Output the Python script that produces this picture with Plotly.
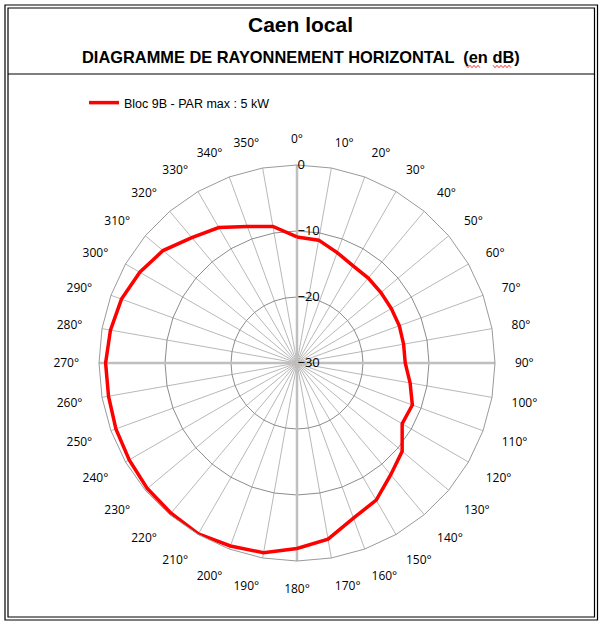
import plotly.graph_objects as go

W, H = 601, 627

# angles every 10 degrees, read clockwise from north
angles = [f"{a}°" for a in range(0, 360, 10)]

# relative field (dB)
bloc_9b = [-10.9, -11.1, -12.2, -13.0, -13.2, -13.4, -13.5, -13.5, -13.6, -13.6,
           -12.6, -11.4, -11.6, -9.2, -7.9, -6.0, -5.0, -2.9, -1.9, -0.8,
           -0.5, -0.1, -0.3, -0.4, -0.65, -0.8, -1.0, -1.0, -1.3, -1.7,
           -2.5, -3.5, -5.2, -6.3, -8.0, -9.0]

radial_ticks = [-30, -20, -10, 0]
cardinal = ["0°", "90°", "180°", "270°"]


def px_x(x):
    return x / W


def px_y(y):
    return 1 - y / H


def squiggle(x0, x1, y):
    # wavy red spell-check underline, as in the original sheet
    pts = []
    x, up = x0, True
    while x <= x1:
        pts.append(f"{px_x(x):.5f},{px_y(y - 1.2 if up else y + 1.2):.5f}")
        x += 2
        up = not up
    return "M " + " L ".join(pts)


fig = go.Figure()

# thicker light spokes on the four main directions
for c in cardinal:
    fig.add_trace(go.Scatterpolar(r=[-30, 0], theta=[c, c], mode="lines",
                                  line=dict(color="#bfbfbf", width=2.5),
                                  showlegend=False, hoverinfo="skip"))

# close the loop by repeating the first point
fig.add_trace(go.Scatterpolar(
    r=bloc_9b + bloc_9b[:1],
    theta=angles + angles[:1],
    mode="lines",
    line=dict(color="#ff0000", width=3.5),
    name="Bloc 9B - PAR max : 5 kW",
))

fig.update_layout(
    width=W, height=H,
    margin=dict(l=0, r=0, t=0, b=0),
    paper_bgcolor="white",
    plot_bgcolor="white",
    font=dict(family="Liberation Sans", size=12, color="black"),
    polar=dict(
        domain=dict(x=[px_x(99), px_x(495)], y=[px_y(561), px_y(165)]),
        bgcolor="white",
        gridshape="linear",
        angularaxis=dict(
            type="category",
            categoryorder="array",
            categoryarray=angles,
            direction="clockwise",
            rotation=90,
            showline=True,
            linecolor="#9a9a9a",
            linewidth=1,
            gridcolor="#b8b8b8",
            gridwidth=1,
            ticks="outside",
            ticklen=17,
            tickcolor="rgba(0,0,0,0)",
            tickfont=dict(family="Open Sans", size=12, color="black"),
        ),
        radialaxis=dict(
            range=[-30, 0],
            tickvals=radial_ticks,
            angle=90,
            tickangle=90,
            side="clockwise",
            showline=False,
            ticks="",
            gridcolor="#8c8c8c",
            gridwidth=1.2,
            tickfont=dict(family="Open Sans", size=13, color="black"),
        ),
    ),
    showlegend=True,
    legend=dict(x=px_x(84), y=px_y(88), xanchor="left", yanchor="top",
                bgcolor="rgba(0,0,0,0)", font=dict(size=12.5)),
    title=dict(text="<b>Caen local</b>", x=0.5, xanchor="center",
               y=px_y(25), yanchor="middle", font=dict(size=21)),
    annotations=[dict(text="<b>DIAGRAMME DE RAYONNEMENT HORIZONTAL  (en dB)</b>",
                      x=0.5, y=px_y(57), xref="paper", yref="paper",
                      xanchor="center", yanchor="middle",
                      showarrow=False, font=dict(size=16.4))],
)

# double frame and the line under the titles
frame = [(5, 5, 597.5, 620), (8, 8, 594.5, 617)]
shapes = []
for x0, y0, x1, y1 in frame:
    shapes.append(dict(type="rect", xref="paper", yref="paper",
                       x0=px_x(x0), y0=px_y(y0), x1=px_x(x1), y1=px_y(y1),
                       line=dict(color="black", width=1.2)))
shapes.append(dict(type="line", xref="paper", yref="paper",
                   x0=px_x(8), x1=px_x(594.5), y0=px_y(74), y1=px_y(74),
                   line=dict(color="black", width=1.2)))
for sx0, sx1 in [(466, 481), (493, 512)]:
    shapes.append(dict(type="path", xref="paper", yref="paper",
                       path=squiggle(sx0, sx1, 66.5),
                       line=dict(color="#ff0000", width=0.8)))
fig.update_layout(shapes=shapes)

# page body margin would push the figure 8px down and right
fig.write_html("out.html", config={"displayModeBar": False},
               post_script="document.body.style.margin='0px';")
